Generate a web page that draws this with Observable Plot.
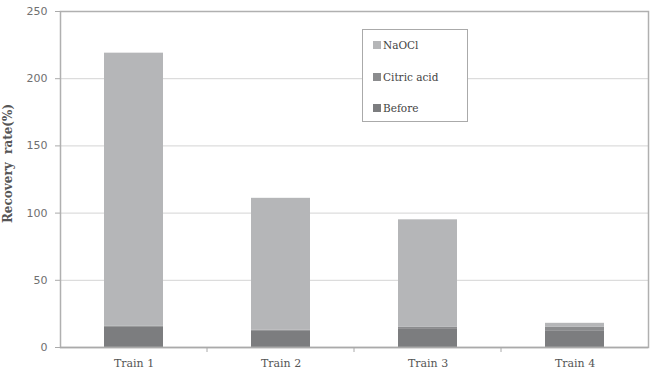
<!DOCTYPE html>
<html>
<head>
<meta charset="utf-8">
<script src="https://cdn.jsdelivr.net/npm/d3@7"></script>
<script src="https://cdn.jsdelivr.net/npm/@observablehq/plot@0.6"></script>
<style>
  html, body { margin: 0; padding: 0; background: #fff; }
  #wrap { position: relative; width: 659px; height: 382px; }
  #legend { position: absolute; left: 362px; top: 29px; width: 104px; height: 91px;
    border: 1.5px solid #aaa; background: #fff; font-family: "DejaVu Serif", serif;
    font-size: 10.5px; color: #444; }
  .item { position: absolute; left: 10px; display: flex; align-items: center; white-space: nowrap; }
  .sw { width: 8px; height: 8px; margin-right: 2px; display: inline-block; }
</style>
</head>
<body>
<div id="wrap"></div>
<script>
const trains = ["Train 1", "Train 2", "Train 3", "Train 4"];
const before = [15, 12, 14, 12];
const citric = [1, 1, 1, 3];
const naocl = [203, 98, 80, 3];
const series = ["Before", "Citric acid", "NaOCl"];
const colors = ["#7c7d7f", "#8b8c8e", "#b5b6b8"];
const yTicks = [0, 50, 100, 150, 200, 250];

const data = [];
trains.forEach((t, i) => {
  data.push({train: t, series: "Before", value: before[i]});
  data.push({train: t, series: "Citric acid", value: citric[i]});
  data.push({train: t, series: "NaOCl", value: naocl[i]});
});

const boundaries = (index, scales, values, dimensions) => {
  const x = scales.x;
  const step = x.step();
  const g = d3.create("svg:g");
  trains.slice(1).forEach(t => {
    const bx = x(t) - (step - x.bandwidth()) / 2;
    g.append("line").attr("x1", bx).attr("x2", bx)
      .attr("y1", dimensions.height - dimensions.marginBottom)
      .attr("y2", dimensions.height - dimensions.marginBottom + 5)
      .attr("stroke", "#aaa").attr("stroke-width", 1);
  });
  return g.node();
};

const chart = Plot.plot({
  width: 659,
  height: 382,
  marginLeft: 60,
  marginRight: 11,
  marginTop: 11,
  marginBottom: 35,
  style: {fontFamily: "DejaVu Serif", background: "#fff"},
  x: {domain: trains, paddingInner: 0.6, paddingOuter: 0.3, label: null},
  y: {domain: [0, 250], label: null},
  color: {domain: series, range: colors},
  marks: [
    Plot.ruleY(yTicks.slice(1), {stroke: "#d4d4d4", strokeWidth: 1}),
    Plot.barY(data, Plot.stackY({x: "train", y: "value", fill: "series", order: series})),
    Plot.frame({stroke: "#b0b0b0", strokeWidth: 1.5}),
    Plot.axisY({ticks: yTicks, tickSize: 5, tickPadding: 8, stroke: "#aaa",
      fill: "#707070", fontFamily: "DejaVu Sans", fontSize: 11, label: null}),
    Plot.axisX({tickSize: 0, tickPadding: 12, fill: "#555", fontFamily: "DejaVu Serif",
      fontSize: 11, label: null}),
    Plot.ruleY([0], {stroke: "#aaa", strokeWidth: 1.5}),
    boundaries,
    Plot.text(["Recovery  rate(%)"], {frameAnchor: "left", textAnchor: "middle", dx: -52, dy: -16,
      rotate: -90, fontWeight: "bold", fill: "#555", fontSize: 12, fontFamily: "DejaVu Serif"})
  ]
});

const wrap = document.getElementById("wrap");
wrap.appendChild(chart);

const legend = document.createElement("div");
legend.id = "legend";
const legendOrder = ["NaOCl", "Citric acid", "Before"];
const tops = [9, 41, 72];
legendOrder.forEach((s, i) => {
  const it = document.createElement("div");
  it.className = "item";
  it.style.top = tops[i] + "px";
  const sw = document.createElement("span");
  sw.className = "sw";
  sw.style.background = colors[series.indexOf(s)];
  it.appendChild(sw);
  it.appendChild(document.createTextNode(s));
  legend.appendChild(it);
});
wrap.appendChild(legend);
</script>
</body>
</html>
